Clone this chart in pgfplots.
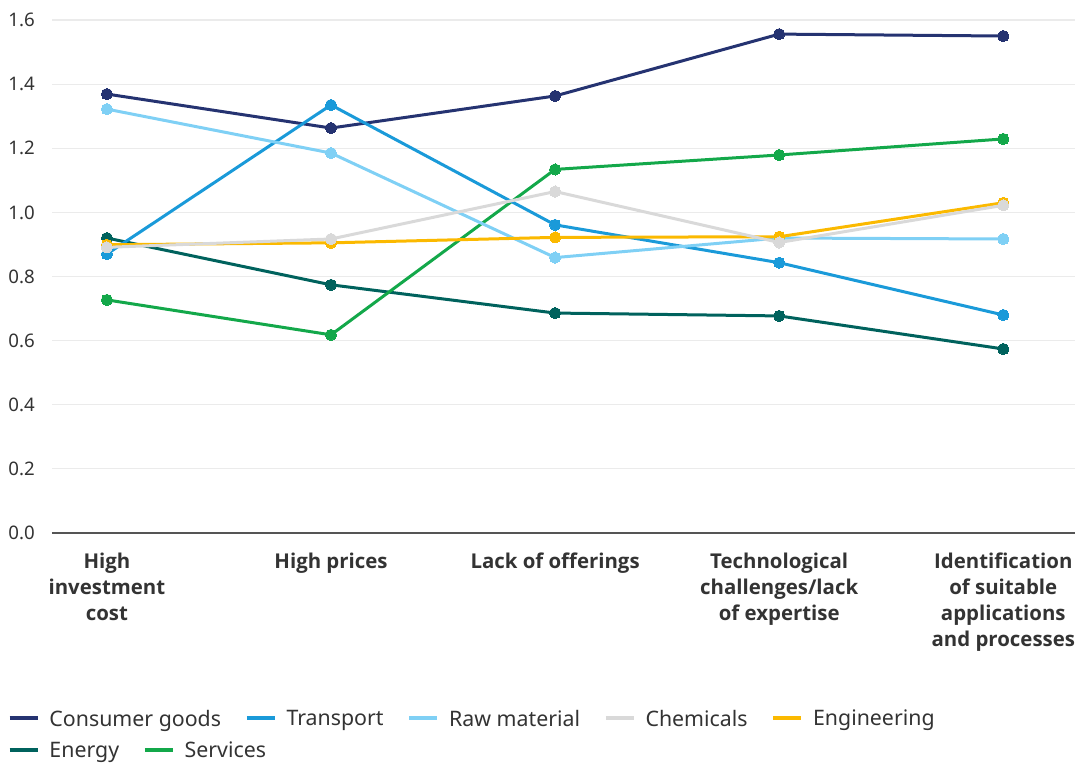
\documentclass[border=0pt]{standalone}
\usepackage{pgfplots}
\pgfplotsset{compat=1.18}
\usepackage{fontspec}
\setmainfont{Noto Sans}
\newfontfamily\catfont{Open Sans}

\definecolor{cgoods}{HTML}{253371}
\definecolor{ctransport}{HTML}{1A9AD9}
\definecolor{craw}{HTML}{7FD0F5}
\definecolor{cchem}{HTML}{D9D9D9}
\definecolor{ceng}{HTML}{FBB900}
\definecolor{cenergy}{HTML}{00625D}
\definecolor{cserv}{HTML}{13A84A}
\definecolor{ctext}{HTML}{333333}
\definecolor{cgrid}{HTML}{EBEBEB}
\definecolor{caxis}{HTML}{555555}

\pgfplotsset{
  series/.style={color=#1, line width=2.25pt, mark=*, mark size=4.2pt,
    mark options={solid, fill=#1, draw=#1, line width=0pt}},
  legline/.style={legend image code/.code={
      \draw[line width=2.6pt, #1] (0pt,0pt) -- (21pt,0pt);}},
  legbase/.style={
    legend style={draw=none, fill=none, inner sep=0pt, outer sep=0pt,
      font=\fontsize{16}{20}\selectfont, text=ctext,
      legend columns=-1, anchor=north west,
      /tikz/every odd column/.append style={column sep=7.5pt},
      /tikz/every even column/.append style={column sep=18pt},
      nodes={inner sep=0pt, outer sep=0pt, text depth=0pt}},
    legend cell align=left,
    legend image code/.code={\draw[line width=2.6pt] (0pt,0pt) -- (21pt,0pt);}},
}

\begin{document}
\begin{tikzpicture}
\begin{axis}[
  at={(0,0)}, anchor=south west,
  scale only axis, width=767.25pt, height=384.75pt,
  xmin=-0.245, xmax=4.32, ymin=0, ymax=1.6,
  axis x line=bottom, axis y line=left,
  x axis line style={-, draw=caxis, line width=1.5pt},
  y axis line style={draw=none},
  xtick={0,1,2,3,4},
  xticklabels={{High\\investment\\cost}, {High prices}, {Lack of offerings},
    {Technological\\challenges/lack\\of expertise},
    {Identification\\of suitable\\applications\\and processes}},
  xticklabel style={align=center, font=\catfont\fontsize{15.3}{19.5}\selectfont\bfseries,
    text=ctext, anchor=north, inner sep=0pt, yshift=-15pt},
  ytick={0,0.2,...,1.6},
  ymajorgrids, grid style={cgrid, line width=0.9pt},
  yticklabel style={font=\fontsize{14}{16}\selectfont, text=ctext,
    anchor=east, inner sep=0pt, xshift=-12.75pt},
  yticklabel={\pgfmathprintnumber[fixed, fixed zerofill, precision=1]{\tick}},
  /pgf/number format/assume math mode=true,
  major tick length=0pt, tick style={draw=none},
  clip=false,
  legbase,
  legend style={at={(rel axis cs:-0.043,-0.345)}},
]
% legend entries, first row
\addlegendimage{legline=cgoods}\addlegendentry{Consumer goods}
\addlegendimage{legline=ctransport}\addlegendentry{Transport}
\addlegendimage{legline=craw}\addlegendentry{Raw material}
\addlegendimage{legline=cchem}\addlegendentry{Chemicals}
\addlegendimage{legline=ceng}\addlegendentry{Engineering}

% series
\addplot[series=cenergy, forget plot] coordinates {(0,0.920) (1,0.774) (2,0.686) (3,0.677) (4,0.574)};
\addplot[series=cserv, forget plot] coordinates {(0,0.727) (1,0.618) (2,1.134) (3,1.179) (4,1.229)};
\addplot[series=cgoods, forget plot] coordinates {(0,1.369) (1,1.263) (2,1.363) (3,1.556) (4,1.550)};
\addplot[series=ctransport, forget plot] coordinates {(0,0.870) (1,1.335) (2,0.961) (3,0.843) (4,0.680)};
\addplot[series=craw, forget plot] coordinates {(0,1.322) (1,1.185) (2,0.859) (3,0.920) (4,0.917)};
\addplot[series=ceng, forget plot] coordinates {(0,0.899) (1,0.905) (2,0.922) (3,0.924) (4,1.030)};
\addplot[series=cchem, forget plot] coordinates {(0,0.891) (1,0.917) (2,1.065) (3,0.906) (4,1.022)};
\end{axis}

% second legend row
\begin{axis}[
  at={(0,0)}, anchor=south west,
  scale only axis, width=767.25pt, height=384.75pt,
  xmin=-0.245, xmax=4.32, ymin=0, ymax=1.6,
  hide axis,
  legbase,
  legend style={at={(rel axis cs:-0.043,-0.4074)}},
]
\addlegendimage{legline=cenergy}\addlegendentry{Energy}
\addlegendimage{legline=cserv}\addlegendentry{Services}
\end{axis}

\pgfresetboundingbox
\path (-39pt,-172.5pt) rectangle (771pt,399.75pt);
\end{tikzpicture}
\end{document}
